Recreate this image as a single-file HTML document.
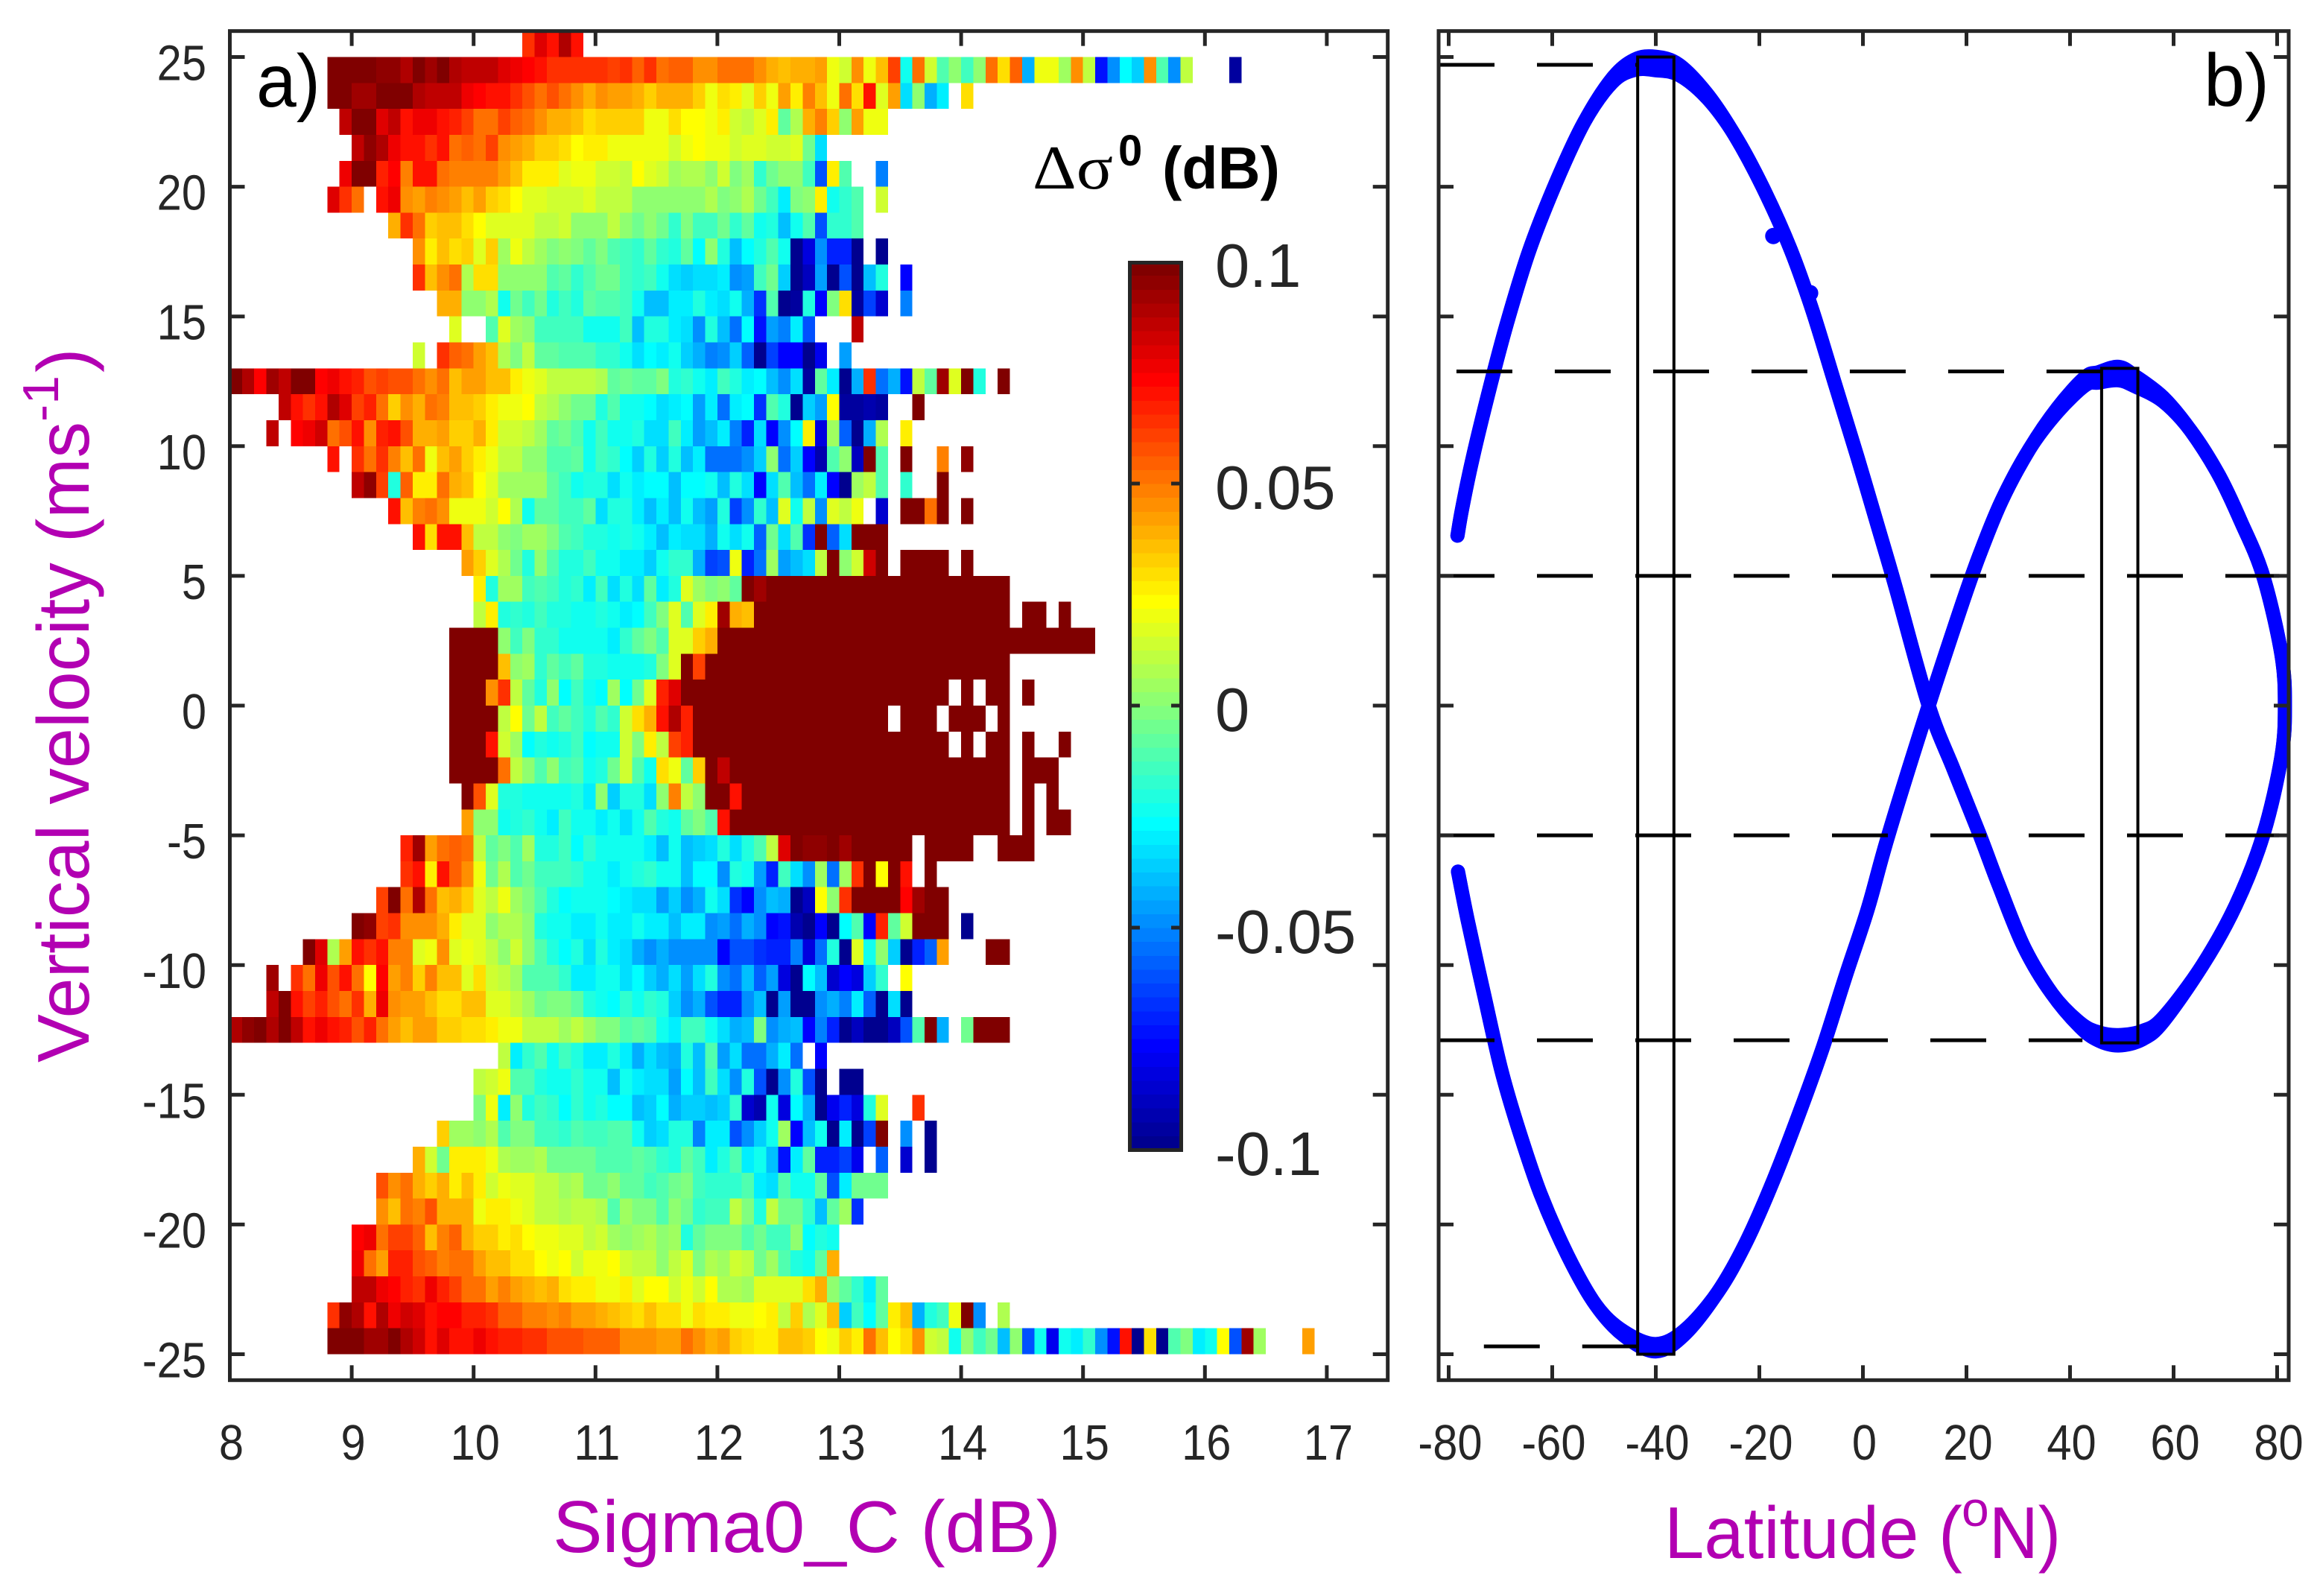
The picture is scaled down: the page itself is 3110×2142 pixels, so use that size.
<!DOCTYPE html>
<html lang="en">
<head>
<meta charset="utf-8">
<title>Delta sigma0 versus Sigma0_C and vertical velocity</title>
<style>
html,body{margin:0;padding:0;background:#fff;}
svg{display:block;}
text{font-family:"Liberation Sans",sans-serif;}
</style>
</head>
<body>
<svg id="fig" xmlns="http://www.w3.org/2000/svg" width="3110" height="2142" viewBox="0 0 3110 2142">
  <rect x="0" y="0" width="3110" height="2142" fill="#fff"/>
  <g id="heatmap" shape-rendering="crispEdges"></g>
  <g id="colorbar"></g>
  <g id="curve"></g>
  <g id="refs"></g>
  <g id="axes"></g>

  <text x="344" y="143" font-size="100" textLength="86" lengthAdjust="spacingAndGlyphs" fill="#000">a)</text>
  <text x="2958" y="142" font-size="100" textLength="88" lengthAdjust="spacingAndGlyphs" fill="#000">b)</text>

  <text x="1386" y="253" font-size="84" textLength="108" lengthAdjust="spacingAndGlyphs" style="font-family:'Liberation Serif',serif" fill="#000">Δσ</text>
  <text x="1501" y="222" font-size="58" font-weight="bold" fill="#000">0</text>
  <text x="1560" y="253" font-size="80" font-weight="bold" textLength="158" lengthAdjust="spacingAndGlyphs" fill="#000">(dB)</text>

  <text x="742" y="2083" font-size="98" textLength="682" lengthAdjust="spacingAndGlyphs" fill="#b200b2">Sigma0_C (dB)</text>
  <g fill="#b200b2">
    <text x="2234" y="2091" font-size="98" textLength="400" lengthAdjust="spacingAndGlyphs">Latitude (</text>
    <text x="2633" y="2048" font-size="66">o</text>
    <text x="2670" y="2091" font-size="98" textLength="96" lengthAdjust="spacingAndGlyphs">N)</text>
  </g>
  <g fill="#b200b2">
    <text transform="translate(119,1426) rotate(-90)" font-size="98" textLength="860" lengthAdjust="spacingAndGlyphs">Vertical velocity (ms</text>
    <text transform="translate(78,566) rotate(-90)" font-size="68" textLength="62" lengthAdjust="spacingAndGlyphs">-1</text>
    <text transform="translate(119,500) rotate(-90)" font-size="98">)</text>
  </g>
</svg>

<script>
const _ = null;

/* ---------- panel a: bin definitions ---------- */
const velocityBins = [25,24,23,22,21,20,19,18,17,16,15,14,13,12,11,10,9,8,7,6,5,4,3,2,1,0,-1,-2,-3,-4,-5,-6,-7,-8,-9,-10,-11,-12,-13,-14,-15,-16,-17,-18,-19,-20,-21,-22,-23,-24,-25];
const rowStartSigma = [10.4,8.8,8.8,8.9,9,8.9,8.8,9.3,9.5,9.5,9.7,9.8,9.5,8,8.4,8.3,8.8,9,9.3,9.5,9.9,10,10,9.8,9.8,9.8,9.8,9.8,9.8,9.9,9.9,9.4,9.4,9.2,9,8.6,8.3,8.3,8,10.2,10,10,9.7,9.5,9.2,9.2,9,9,9,8.8,8.8];

/* delta sigma0 per bin, in units of 0.01 dB */
const deltaSigma = [
[6.5,8,7,9,7],
[10,10,10,10,9.5,9.5,9,10,9.3,9.7,9,8.5,8.5,8.5,8,7.7,7.3,7,6.5,6.5,6.5,6.5,6.5,6,6.5,5.5,6.5,5,5.5,5.5,4.5,4.5,5,5,5,4.5,4,3.5,4,4,4.3,2,1.5,4.5,2,3.5,6,-2.5,5,1.5,-1,.3,-1.5,.3,5,3,5.5,-4.3,2,2,.5,4.5,1,-7.5,-5,-2.7,-3.7,4.5,-1,-5,1,_,_,_,-9.5],
[10,10,9.3,9.3,10,10,10,9,8.5,8.7,8.5,7.5,7.2,7,7,6.5,5.7,5,5.7,5,4.6,4,4.6,4.3,4.3,4,3.3,4,4,3.8,3.3,2,3,2.5,1.8,3.3,2,4.3,2.7,4.7,3.6,2,5.3,3,7,1.8,4.2,-3.3,0,-4.2,-3,_,3],
[8.7,10,9.7,8,8.5,7,7.5,7.7,7,6.7,6,5.3,5.3,6,5.5,5,4.4,4,4,3.6,3,3.4,3.4,3.3,3.3,2,2,3,2.2,2.2,2,2.7,1.4,1,1.6,2.6,-.8,.7,4,4.7,3.2,.3,4.2,2,2],
[8.5,9.5,9,7.5,6.9,6.9,6.5,6.9,5,5.6,5,6,4.6,4.2,4,3.3,3.3,3,2.2,2.5,2.5,2,2,2,2,2,1.5,2,2.2,2,2,1.3,1.8,1.8,1.5,1.5,1.7,-.5,-3.3],
[7.5,10,10,6.7,7.3,4.7,6.9,6.9,5,4.8,4.8,4.8,4.8,4.2,3.5,2.5,2.5,2.5,1.8,2.1,2.1,1.5,1.5,1.2,2.3,1.6,1.3,.6,.8,.9,0,1.4,-.2,.4,-1.6,-.5,.2,.2,-1.5,-6,2.8,-1,_,_,-5.3],
[8,6.3,5,_,7,7.6,4.6,4.3,4.7,4.5,4.1,3.7,4.2,3.3,2.9,2.2,1.8,1.8,1.5,1.4,1.4,1.7,1,1,1,0,0,.3,0,0,0,.9,-.2,.2,.7,-.4,-1.3,-3,-.3,0,2.8,-2.4,-1.8,-1.2,_,1.3],
[4,6.5,5,3.4,3.6,3.6,2.9,2.2,1.6,1.8,1.7,1.6,1,1,1.5,.3,.3,.3,1,.3,-.6,0,-.5,-1.7,-.3,-1.3,-1.3,-.4,-1.6,-.8,-2.5,-2,-3.8,-2.2,-1,-6,-1.8,-1.8,-1.2],
[4.4,2.5,3.7,2.9,3.4,1.7,3.2,.6,2,1,.6,-.3,0,-.2,-.7,-.2,-1,-1.5,-1.6,-.7,-1.7,-1.9,-.8,-2.7,.3,-2,-3.8,-2.6,-2,-1.1,-2.2,-9.7,-8.3,-5,-7,-7,-9.7,_,-9.8],
[6.3,3.5,4.4,5.3,.9,3,3,.2,.2,.2,.2,-1.2,-.9,-1.7,-1.2,-.4,-.6,-1.4,-1.8,-1.4,-2.5,-3.3,-3.6,-3.4,-3.4,-3,-5,-4.4,-1.5,-.4,-3.5,-10,-9,-4.5,-10,-6,-9.7,-3.8,-2.1,_,-7.6],
[4,4,.3,.1,.8,-2.2,-.5,-1.5,-.6,-2.1,-1.3,-2,-.9,-1.2,-1.2,-1.4,-2.5,-3.9,-3.9,-3.1,-3.1,-1.9,-2.9,-3.3,-2.5,-4.3,-6.6,-1,-10,-9.5,-2.1,-7.6,-.2,3,-9.6,-6.5,-8.7,_,-5.2],
[1.7,_,_,-1.2,1.7,.5,.2,-1.5,-1.5,-1.5,-1.5,-2.5,-2.5,-2.5,-1.3,-4,-2,-2,-3,-3.2,-4.7,-2,-4,-5.5,-2.8,-7.5,-4.5,-5.2,-3.1,-6,_,_,_,8.7],
[1.3,_,6.5,5.5,5,4.3,3.5,.9,-.3,1,-.9,-.9,-1,-1,-1,-1.7,-1.7,-2.5,-3.2,-2.8,-3,-2.4,-3.5,-4.2,-5.3,-4.8,-3.5,-5.8,-9.8,-6.3,-7.7,-7.7,-10,-7.9,_,-4.4],
[9.7,9,7.2,9.3,8.6,9.8,10,7.2,7.5,7,6.7,5.7,6,5.8,5.8,5,4.6,5,3.5,4.3,4.3,3.6,3.6,2.5,2,1.7,1,1,1,1,.7,-.9,-.4,-.8,-.8,-.3,-2,-1.6,-2.5,-2.9,-1.3,-2,-3,-2.6,-3.8,-4.7,-3.2,-9.6,-.7,-3,-9.8,-4.2,6.3,-5.5,-4.2,-7.2,1.2,-.8,9.3,1.6,10,-2.1,_,10],
[8.5,7,6.4,7,9,8,6.2,6.7,5,3.4,4.6,4,5,4.7,3.5,3.5,3.2,2.5,2,2,2.3,1,.9,.2,-.6,-.6,-2,-1.2,-2.2,-2.5,-2.8,-3.2,-3,-2.7,-4.5,-3,-5.5,-3,-2.6,-6.6,-1,-2,-9.7,-3.6,-4.6,2.4,-9.6,-9.5,-9.3,-9.6,_,_,10],
[8.5,_,7.3,7.6,8.3,5.2,5.7,7.1,4.4,6.6,7,5.8,3.9,3.9,4.1,3.4,3.4,3.9,2.6,1.4,1.4,1,.4,-.9,-.5,-1,-2.2,-1.4,-2.3,-2.5,-2,-3.2,-3.2,-1.4,-3,-4.6,-3.9,-2.9,-5.2,-7,-3.2,-7.7,-4.7,-2.7,2.7,-8.4,.5,-5.8,-9.7,-4.1,.7,_,2.6],
[7,_,6.5,5,6.4,4.7,3.6,5,2,3.7,4.1,3.2,2.5,2.1,1,1,.1,.1,-1,-1.2,-.8,-2.2,-1.5,-1.7,-2.6,-3.5,-1.9,-3.5,-2,-3.8,-2.9,-5.6,-5.6,-5.6,-5,-3.6,.1,-5.6,-3.5,-7.8,-9.3,-1,.2,-8.8,10,-1.2,_,10,_,_,4.7,_,9.6],
[8.5,9.6,6.2,-2,5.4,2.5,2.5,5,4,3.5,2.2,1.8,.6,.6,.6,.5,-.7,-1.5,-2.2,-2,-2,-3.2,-2.5,-3.1,-2.8,-2.8,-3.9,-2.8,-2.8,-2.5,-4,-2,-3.2,-7.6,-3.4,-1,-4,-5.5,-3.1,-7.7,-9.8,.6,1,-1,_,-1.8,_,_,10],
[7,3.5,4.9,5.3,4.4,2.1,2.1,1.9,1.5,2.2,.8,-2.2,-.9,-.9,-1.5,-1.5,-.9,-3.2,-2,-2,-3,-3.9,-3.1,-4,-2.4,-3.9,-4.4,-2,-6.3,-5,-1.8,-4,1.7,-2.5,1,-5,1.7,1,2.1,_,-8.5,_,10,10,5,10,_,10],
[7.1,3.1,6.9,7.1,3.6,1.1,1.1,.3,-.3,.4,.4,-.3,-1,-1.5,-2.1,-2.1,-2.3,-2.1,-2.4,-3,-3.8,-3,-3.3,-3.3,-4.2,-2.5,-3.2,-2.5,-5.8,-.5,-3.2,-1,-6.6,10,-5.7,-3.2,10,10,10],
[4.1,3.4,1.8,.7,-.5,-2.1,.1,-1.1,-1.9,-1.9,-1.4,-2.5,-2.2,-3,-3,-3.5,-2.5,-1.6,-1.6,-4.2,-6.5,-6.1,2.1,-7,-5.5,.4,-4.4,-4,-3.2,1,10,0,1.5,8.2,10,_,10,10,10,10,_,10],
[2.5,-2.1,.4,.4,-1.4,-1.2,-1.4,-2.1,-1.7,-2.9,-1.5,-3.3,-2,-3.2,-.9,-3,-1.9,1.8,.4,-.3,.2,-.9,10,9.3,10,10,10,10,10,10,10,10,10,10,10,10,10,10,10,10,10,10,10,10],
[1,2.8,-2,-1.6,-1.9,-1.3,-1.9,-2,-2.5,-2.5,-1.9,-2.5,-2.9,-2.6,-1.3,-.1,1.8,-1,1.7,2.6,9.2,4,3.5,10,10,10,10,10,10,10,10,10,10,10,10,10,10,10,10,10,10,10,10,10,_,10,10,_,10],
[10,10,10,10,.2,-1.4,-.3,-1.8,-1.8,-2.2,-2.2,-2.2,-2.5,-3.1,-1.7,-.8,-.2,-1.1,1.6,1.6,3.2,3.9,10,10,10,10,10,10,10,10,10,10,10,10,10,10,10,10,10,10,10,10,10,10,10,10,10,10,10,10,10,10,10],
[10,10,10,10,3.5,0,.6,-1.7,-.9,-1.5,-.7,-2,-2,-2.2,-2.2,-2.2,-2,-.1,1.6,10,6,10,10,10,10,10,10,10,10,10,10,10,10,10,10,10,10,10,10,10,10,10,10,10,10,10],
[10,10,10,4.6,6.4,1,-.9,-2,.2,-2.7,-1.4,-2.2,-2.6,.5,-2.6,-.5,1.6,6.8,8,10,10,10,10,10,10,10,10,10,10,10,10,10,10,10,10,10,10,10,10,10,10,_,10,_,10,10,_,10],
[10,10,10,10,1,2.3,-.5,1.2,-1.5,-.7,-1.5,-1.9,-1.1,-1.7,1.3,3.1,3.9,7,9,6.8,10,10,10,10,10,10,10,10,10,10,10,10,10,10,10,10,_,10,10,10,_,10,10,10,_,10],
[10,10,10,7,1.3,.5,-2.6,-2.1,-2.3,-2,-1.5,-2.6,-2.2,-2.2,1.5,-.1,2.5,1.1,6.2,6.8,10,10,10,10,10,10,10,10,10,10,10,10,10,10,10,10,10,10,10,10,10,_,10,_,10,10,_,10,_,_,10],
[10,10,10,10,5,1,.1,-1.2,.1,-1.5,-1.1,-2.2,-2.1,-.5,1.3,-1,-2.5,3,2,-.8,3.3,10,8.5,10,10,10,10,10,10,10,10,10,10,10,10,10,10,10,10,10,10,10,10,10,10,10,_,10,10,10],
[10,5.8,1.7,-1.9,-2,-2.3,-2.5,-2.3,-2.5,-2,-3,0,-3.6,-2,-2,-3.2,0,4.7,1,.1,10,10,7,10,10,10,10,10,10,10,10,10,10,10,10,10,10,10,10,10,10,10,10,10,10,_,10,_,10],
[4.1,.2,.2,-2.2,-2,-1.7,-2.2,-3,-1.3,-2.2,-2.2,-3,-2.5,-3.2,-2.5,-1.2,-1.9,-2.5,-.8,-.1,-1,7,10,10,10,10,10,10,10,10,10,10,10,10,10,10,10,10,10,10,10,10,10,10,10,_,10,_,10,10],
[6.8,9.3,4.3,5.2,5.6,5.2,1,-.9,-.3,-1,.4,-2.1,-2.1,-1.4,-2.8,-1.6,-2.2,-2.5,-2.5,-2.5,-3,-4,-2.5,-3.9,-3.6,-3.2,-2,-3.2,-2,-1,1,8,10,9.6,9.5,10,9.3,10,10,10,10,10,_,10,10,10,10,_,_,10,10,10],
[6.4,7.1,2.5,6.9,5.6,4.6,2.1,-.6,.9,-1.2,-.6,-1.4,-1.4,-1.4,-1.7,-2.5,-2.5,-2.9,-2.5,-2.1,-1.8,-2.5,-2.5,-4,-2.8,-2.8,-5,-2,-2.2,-4.5,-7.1,-1.5,-3.4,-5,.6,-5.6,.4,6.4,10,2.2,10,7,_,10],
[6,10,5.2,8.9,5.3,3.6,4,3.2,1.7,1,2.1,.4,-.2,-1.1,-2,-2.6,-2.2,-2.2,-2.2,-2.6,-3,-3.2,-3.2,-4.5,-3.5,-5,-4.1,-2.5,-3.2,-6.6,-7.6,-5,-3.8,-4.2,-10,-9,2.2,.2,6.4,10,10,10,10,7.2,9.3,10,10],
[10,9.6,6,6.5,4.5,4.5,4.5,4,2.5,1.7,1.7,.1,.9,.8,.3,-2,-2.4,-2.4,-2.9,-2.9,-2.5,-3,-3,-2.5,-3,-3,-4,-3.1,-3.1,-5,-4.5,-5.4,-4.1,-5,-7.7,-7.2,-9.3,-10,-7.6,-9.8,-2.7,-1,-7.7,6.7,-.9,1.3,10,10,10,_,-9.8],
[10,8,.8,4.3,6.9,6.4,6.9,4.8,4.8,1.6,2.1,4.4,1.8,2,1.8,1.1,.3,1.3,.3,-1,-1.9,-2.7,-1.9,-3.4,-2.1,-2.9,-3.3,-4.3,-4.7,-4.3,-4.8,-4.8,-4.8,-4.8,-7.6,-6,-6.2,-6.6,-7,-6.9,-5.2,-8.3,-5.6,-2,-9.7,1.7,-2.5,.2,-3.5,-10,-7,-5.7,4.2,_,_,_,10,10],
[9.3,_,6.3,5.3,7.6,5.8,7,5.3,2.2,7.2,4.3,4.8,3.3,4.7,3.6,3.6,1.7,3,1.3,1.2,.6,-1.2,-1.2,-1.2,-1.8,-3,-3,-2.2,-2.4,-3.2,-2.6,-3.7,-4.1,-3.2,-4.6,-3.2,-2,-5,-5.5,-3.9,-5.7,-4.6,-8.3,-9.7,-2.6,-4,-8.5,-7.6,-8.2,-3.6,-1.6,_,2.2],
[8.5,10,7,6.2,6.7,5.7,5,6.4,4,7.5,4.6,4.2,4.2,3.7,3.1,3.1,3.7,3.7,1.7,1.7,1,.6,-.5,-.2,-.2,-.9,-2.1,-2.5,-2.8,-1.8,-2.2,-1.8,-2,-3.5,-5,-4.1,-6,-7,-7,-5,-4,-10,-4.6,-10,-10,-4.8,-4.3,-5.3,-3,-5.8,-9.8,-3.3,-10],
[9,9.4,10,9,9.7,8.7,7.1,7.5,7,6.7,5.8,6.8,5.1,4.3,3.5,4.1,4.1,3.4,3.4,3,3,2.5,2,2,1.1,1.1,1.1,.6,1,.4,-.3,-.3,-1.1,-.8,-1.2,-2.5,-2.9,-1.5,-1.5,-2.4,-3.3,-4.3,-4,-.3,-4.9,-4.3,-3.8,-7.6,-5.2,-7,-10,-9,-10,-10,-9,-6,-1,10,-4.1,_,-.5,10,10,10],
[1.1,-3,-1.8,-1.2,-2.5,-1.3,-2.1,-3,-3,-2.1,-3.1,-4.2,-3.4,-3.8,-4.1,-2.1,-3.9,-1.2,-4.4,-3.4,-5.4,-5.4,-4.3,-2.9,-5.5,_,-7.8],
[1.1,1.4,2,-1.1,-1.1,-2.1,-2.5,-2.3,-1.6,-2.5,-2.5,-4,-2.5,-3,-3.3,-3.3,-4.5,-2.7,-4,-1.3,-3.4,-4.7,-2,-6,-9.8,-4.8,-2,-6,-10,_,-9.8,-10],
[-.2,2,-3.1,.1,-2,-1.3,-1.7,-2.6,-1.7,-2.3,-2,-2.6,-2.6,-3.8,-3.5,-2.6,-4.2,-3.7,-3.7,-3.8,-3.6,-1.7,-8.5,-9.3,-2.5,-8.2,-2.8,-4.3,-9.7,-8,-7,-8.3,-2.1,1.8,_,_,6.5],
[3.2,.5,.4,.2,.7,-1.2,-.3,-.3,-1.3,-1.3,-1.8,-1,-1.4,-1.4,-1,-1,-2.2,-3.7,-3.2,-1.9,-2.1,-5.2,-3,-3,-6,-4.9,-3.7,-2.5,.5,-7.6,-3.9,-2.4,-9.7,-3,-9.7,-6.5,10,_,-5,_,-10],
[3.8,1.5,-.4,2.5,2.5,2.5,1.9,.7,.6,.5,.8,-.5,-.5,-.5,-.5,-1,-1,-1,-.9,-1.1,-1.7,-2,-.7,-1.4,-2.9,-2,-1.2,-3,-2.5,-4,-7.5,-3,-.7,-6.9,-6.9,-6.4,-8,_,-5.8,_,-8.5,_,-10],
[5.8,4.5,5,4,3.3,3.8,2.5,3.5,2.7,1.3,2.1,1.8,1.7,1,1,.6,.9,-.4,-.4,0,-.7,-.7,-1.5,-1,-.4,-.1,-1.4,-1.8,-1.8,-1.8,-1,-2.9,-3.2,-1.2,-2.5,-2.5,-.9,-6,-3,-.4,-.4,-.4],
[4.5,3.5,5.2,4.8,5.8,3.9,3.9,3.9,2.1,2.5,2.5,1.9,1.6,1.2,1.2,.8,1.2,1.2,.9,-1.2,.6,-.3,-.3,-1.2,.1,-.5,-1.7,-1.5,-1.5,1,-.2,-2,1.2,-.4,-.4,-1.7,-3.8,-.7,.6,-6.8],
[7.2,7.5,5.1,6.2,6.2,5.5,3.5,4.8,5.5,4,3.4,3.4,2.5,3,2.2,1.9,1.9,1.7,1.6,1.1,1.4,.5,.1,.5,.9,.1,.6,-1.9,-.7,-.2,-.2,-.2,-1.2,-.6,-1.3,-1.4,.2,-2.8,-1.9,-2.2],
[7.6,5,4.3,6.8,6.8,5.8,5.4,4.7,5,5,4.1,3.7,3.7,3.1,3.1,2.2,1.9,2.3,1.4,2,2,2.4,1.4,1.2,1.2,.2,1,1.6,-.2,.9,.4,1.4,1.1,-.6,.5,-1.2,-2,-2.5,-.7,4],
[8.5,8.5,7.5,7.2,6.7,6.4,7.5,6.8,6,5,5,4.3,4.7,4.1,4,3.6,3.8,2.9,2.5,2.5,2.1,2.1,2.5,1.7,2.2,2.2,1.3,2.1,1.3,2.2,.9,.9,.5,1.6,1.6,1.6,1.8,3,3.8,.1,-.8,-1.7,-3,-.7],
[6.4,9.6,9,7.1,9,7.5,8.4,8,7,7.2,7.2,6.6,6.6,6.3,5.6,5.6,4.9,4.9,4.4,4.8,4.1,4.1,3.8,3.6,3.2,2.9,3.6,3,3,2,3.1,2.5,2.5,2.1,2,2.2,2.5,1.2,3.3,.9,1.7,3.5,-3.5,-1.3,-2.6,-.8,2.5,3.7,-4.2,-2,-1.5,2,10,-5,_,.8],
[10,10,9.7,9.3,9.3,9.7,8.9,8.2,7,8,7.1,7.1,7.5,7.1,6.8,6.6,6.3,6.3,5.8,5.8,5.8,5.4,5.4,5.4,4.6,4.6,4.6,4.3,4.3,5,4.6,3.8,4.3,3.4,3,2.8,2.5,3.5,3.5,3.2,2.2,2,3.3,2.6,5,3.7,2.2,2.9,4.4,1.4,1.1,-2.5,.1,-1.5,-.5,-4,.3,-6,-2.5,-8,-2.3,-3,-1.6,-5,-7.5,7,-10,3,-10,-1,-.3,-3,-2.5,2.3,-6,9.3,.5,_,_,_,4.3]
];

/* ---------- panel a: axis labels ---------- */
const sigmaTicks = [8,9,10,11,12,13,14,15,16,17];
const velocityTicks = [25,20,15,10,5,0,-5,-10,-15,-20,-25];
const colorbarTicks = [0.1,0.05,0,-0.05,-0.1];
const colorbarTickLabels = ["0.1","0.05","0","-0.05","-0.1"];

/* ---------- panel b: orbit track (latitude, velocity, scatter half-width) ---------- */
const trackLatitude = [-78.3,-77.4,-75.3,-72,-68.8,-64.5,-59.2,-53.8,-48.4,-44.1,-40,-35.5,-30.1,-24.8,-19.4,-14,-9.7,-5.4,-1.1,3.2,6.4,12.7,17.6,22.6,26.2,31.1,36.5,41.9,45.5,49.4,54,58,65.6,72,77.3,80.8,81.5,80.8,77.3,73,68.7,63.3,58,52.6,49.4,45.5,42.9,37.6,32.2,26.8,22.5,19.3,12.7,4.9,1,-3.3,-7.6,-11.9,-17.3,-22.6,-28,-34.4,-40,-46.2,-51.6,-57,-62.3,-66.7,-69.9,-73.1,-76.3,-78.2];
const trackVelocity = [6.55,7.6,9.6,12.3,14.7,17.5,20.2,22.5,24.1,24.7,24.75,24.5,23.5,22,20,17.6,15.2,12.4,9.6,6.7,4.5,0,-2.5,-5,-6.9,-9.3,-11.1,-12.3,-12.75,-12.9,-12.7,-12.1,-10,-7.7,-5,-2,0,2,5,7.1,8.9,10.6,11.8,12.5,12.8,12.65,12.5,11.4,9.9,7.9,5.8,4,0,-5,-7.8,-10.4,-13.1,-15.5,-18.3,-20.7,-22.6,-24.15,-24.75,-24.2,-23.1,-21.2,-18.8,-16.2,-14,-11.2,-8.3,-6.4];
const trackSpread = [0,0,0,0,0,0,0,0,.08,.2,.26,.2,.08,0,0,0,0,0,0,0,0,0,0,0,0,0,0,.08,.16,.2,.16,.08,0,0,0,0,0,0,0,0,0,0,.08,.2,.26,.2,.16,.08,0,0,0,0,0,0,0,0,0,0,0,0,0,.08,.14,.08,0,0,0,0,0,0,0,0];
const outlierLatitude = [-17.3,-10.2];
const outlierVelocity = [18.1,15.9];

/* ---------- panel b: reference lines ---------- */
const dashLevels = [24.7,12.88,5,-5,-12.9,-24.7];
const dashStartLat = [-82,-78.5,-82,-82,-82,-73.2];
const dashEndLat = [-43.5,46.1,80.4,80.4,42.4,-43.5];
const boxLatLeft = [-43.5,46.1];
const boxLatRight = [-36.5,53.1];
const boxVelocityLimit = [25,13];
const latitudeTicks = [-80,-60,-40,-20,0,20,40,60,80];

/* ---------- scales ---------- */
const NS = "http://www.w3.org/2000/svg";
const xA = v => 308.5 + 163.6 * (v - 8);
const yV = v => 947 - 34.82 * v;
const xB = v => 2500.5 + 6.95 * v;
const yBar = v => 947 - 5960 * v;
const A_LEFT = xA(8), A_RIGHT = xA(17.5), B_LEFT = 1931, B_RIGHT = 3072, TOP = yV(26), BOTTOM = yV(-26);

function jetColor(idx) {
  const t = (idx + 1) / 64;
  const c = x => Math.round(255 * Math.max(0, Math.min(1, x)));
  return "rgb(" + c(Math.min(4 * t - 1.5, -4 * t + 4.5)) + "," + c(Math.min(4 * t - .5, -4 * t + 3.5)) + "," + c(Math.min(4 * t + .5, -4 * t + 2.5)) + ")";
}
function levelOf(centiDb) {
  return Math.max(0, Math.min(63, Math.floor((centiDb + 10) / 20 * 64)));
}
function make(tag, attrs, parent) {
  const el = document.createElementNS(NS, tag);
  for (const k in attrs) el.setAttribute(k, attrs[k]);
  parent.appendChild(el);
  return el;
}
/* smooth path through the read points (Catmull-Rom rendered as cubic Beziers) */
function smoothPath(p) {
  let d = "M" + p[0][0].toFixed(1) + " " + p[0][1].toFixed(1);
  for (let i = 0; i < p.length - 1; i++) {
    const a = p[Math.max(0, i - 1)], b = p[i], c = p[i + 1], e = p[Math.min(p.length - 1, i + 2)];
    const c1x = b[0] + (c[0] - a[0]) / 6, c1y = b[1] + (c[1] - a[1]) / 6;
    const c2x = c[0] - (e[0] - b[0]) / 6, c2y = c[1] - (e[1] - b[1]) / 6;
    d += "C" + c1x.toFixed(1) + " " + c1y.toFixed(1) + " " + c2x.toFixed(1) + " " + c2y.toFixed(1) + " " + c[0].toFixed(1) + " " + c[1].toFixed(1);
  }
  return d;
}

/* ---------- heatmap ---------- */
const heatmap = document.getElementById("heatmap");
deltaSigma.forEach((row, r) => {
  row.forEach((value, c) => {
    if (value === null) return;
    const s = rowStartSigma[r] + 0.1 * c;
    const x0 = xA(s), x1 = xA(s + 0.1), y0 = yV(velocityBins[r] + 1), y1 = yV(velocityBins[r]);
    const cell = make("rect", {x: x0, y: y0, width: x1 - x0, height: y1 - y0, fill: jetColor(levelOf(value))}, heatmap);
    
    
  });
});

/* ---------- colorbar ---------- */
const colorbar = document.getElementById("colorbar");
for (let i = 0; i < 64; i++) {
  const vTop = -0.1 + (i + 1) * 0.2 / 64, vBot = -0.1 + i * 0.2 / 64;
  const seg = make("rect", {x: 1516, y: yBar(vTop), width: 70, height: yBar(vBot) - yBar(vTop) + .5, fill: jetColor(i), "shape-rendering": "crispEdges"}, colorbar);
  
  
}
const barFrame = make("rect", {x: 1516.5, y: yBar(0.1) + 1.5, width: 69, height: yBar(-0.1) - yBar(0.1) - 1, fill: "none", stroke: "#262626", "stroke-width": 5}, colorbar);


colorbarTicks.forEach((v, i) => {
  if (Math.abs(v) < 0.1) {
    [[1516, 1530], [1572, 1586]].forEach(pair => {
      const tick = make("line", {x1: pair[0], x2: pair[1], y1: yBar(v), y2: yBar(v), stroke: "#262626", "stroke-width": 5}, colorbar);
      
      
    });
  }
  const label = make("text", {x: 1631, y: yBar(v) + 34, "font-size": 83, fill: "#262626"}, colorbar);
  label.textContent = colorbarTickLabels[i];
  
  
});

/* ---------- orbit track ---------- */
const curve = document.getElementById("curve");
[1, -1].forEach(sign => {
  const pts = trackLatitude.map((lat, i) => [xB(lat), yV(trackVelocity[i] + sign * trackSpread[i])]);
  const line = make("path", {d: smoothPath(pts), fill: "none", stroke: "#0000ff", "stroke-width": 19, "stroke-linejoin": "round", "stroke-linecap": "round"}, curve);
  
  
});
outlierLatitude.forEach((lat, i) => {
  const dot = make("circle", {cx: xB(lat), cy: yV(outlierVelocity[i]), r: 11, fill: "#0000ff"}, curve);
  
  
});

/* ---------- reference lines ---------- */
const refs = document.getElementById("refs");
dashLevels.forEach((level, i) => {
  const dash = make("line", {x1: Math.max(B_LEFT, xB(dashStartLat[i])), x2: xB(dashEndLat[i]), y1: yV(level), y2: yV(level), stroke: "#000", "stroke-width": 5, "stroke-dasharray": "75 57"}, refs);
  
  
});
boxLatLeft.forEach((lat, i) => {
  const limit = boxVelocityLimit[i];
  const box = make("rect", {x: xB(lat), y: yV(limit), width: xB(boxLatRight[i]) - xB(lat), height: yV(-limit) - yV(limit), fill: "none", stroke: "#000", "stroke-width": 4}, refs);
  
  
});

/* ---------- axes ---------- */
const axes = document.getElementById("axes");
const INK = "#262626";
function frame(x0, x1, name) {
  const f = make("rect", {x: x0, y: TOP, width: x1 - x0, height: BOTTOM - TOP, fill: "none", stroke: INK, "stroke-width": 5}, axes);
  
  
}
function tick(x1, y1, x2, y2) {
  const t = make("line", {x1: x1, y1: y1, x2: x2, y2: y2, stroke: INK, "stroke-width": 5}, axes);
  
  
}
function tickLabel(txt, x, y, anchor, name) {
  const t = make("text", {transform: "translate(" + x + "," + y + ") scale(.89,1)", "text-anchor": anchor, "font-size": 67, fill: INK}, axes);
  t.textContent = txt;
  
  
}
frame(A_LEFT, A_RIGHT, "plot-frame-a");
frame(B_LEFT, B_RIGHT, "plot-frame-b");
sigmaTicks.forEach(v => {
  const x = xA(v);
  if (v > 8) {
    tick(x, BOTTOM, x, BOTTOM - 20);
    tick(x, TOP, x, TOP + 20);
  }
  tickLabel(String(v), x + 2, 1959, "middle", "x-tick-label-a");
});
velocityTicks.forEach(v => {
  const y = yV(v);
  tick(A_LEFT, y, A_LEFT + 20, y);
  tick(A_RIGHT, y, A_RIGHT - 20, y);
  tick(B_LEFT, y, B_LEFT + 20, y);
  tick(B_RIGHT, y, B_RIGHT - 20, y);
  tickLabel(String(v), 277, y + 31, "end", "y-tick-label");
});
latitudeTicks.forEach(v => {
  const x = xB(v);
  tick(x, BOTTOM, x, BOTTOM - 20);
  tick(x, TOP, x, TOP + 20);
  tickLabel(String(v), x + 2, 1959, "middle", "x-tick-label-b");
});
</script>
</body>
</html>
